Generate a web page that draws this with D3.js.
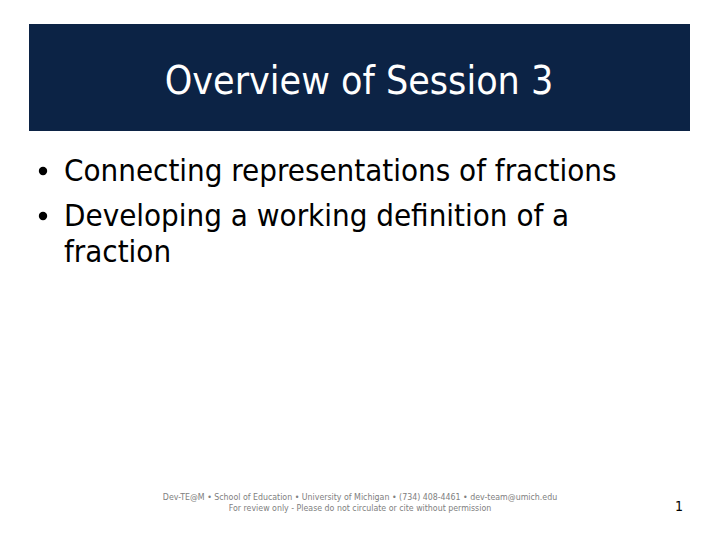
<!DOCTYPE html>
<html>
<head>
<meta charset="utf-8">
<script src="https://cdn.jsdelivr.net/npm/d3@7"></script>
<style>
  html, body { margin: 0; padding: 0; background: #fff; }
  svg { display: block; }
</style>
</head>
<body>
<div id="slide"></div>
<script>
const WIDTH = 720,
  HEIGHT = 540,
  BANNER_COLOR = "#0c2345",
  TEXT_FONT = "'DejaVu Sans Condensed', 'DejaVu Sans', sans-serif";

// slide content
const title = ["Overview of Session 3"];
const bullets = [
  ["Connecting representations of fractions"],
  ["Developing a working definition of a", "fraction"]
];
const footerLines = [
  "Dev-TE@M \u2022 School of Education \u2022 University of Michigan \u2022 (734) 408-4461 \u2022 dev-team@umich.edu",
  "For review only - Please do not circulate or cite without permission"
];
const pageNumber = ["1"];

const svg = d3.select("#slide").append("svg")
  .attr("width", WIDTH)
  .attr("height", HEIGHT);

// title banner
svg.append("rect")
  .attr("x", 29).attr("y", 24)
  .attr("width", 661).attr("height", 107)
  .style("fill", BANNER_COLOR);

svg.selectAll(".title")
  .data(title)
  .enter().append("text")
  .attr("class", "title")
  .attr("x", 359).attr("y", 94)
  .attr("text-anchor", "middle")
  .style("font-family", TEXT_FONT)
  .style("font-size", "39px")
  .style("fill", "#fff")
  .text(d => d);

// bullet list: each item may wrap onto more lines
var y = 181;
const items = svg.append("g").attr("class", "bullets");
bullets.forEach(function (lines) {
  items.append("circle")
    .attr("cx", 43).attr("cy", y - 10)
    .attr("r", 4.2)
    .style("fill", "#000");
  lines.forEach(function (line, i) {
    items.append("text")
      .attr("x", 64).attr("y", y + i * 36)
      .style("font-family", TEXT_FONT)
      .style("font-size", "31px")
      .style("fill", "#000")
      .text(line);
  });
  y += (lines.length - 1) * 36 + 45;
});

// footer
svg.selectAll(".footer")
  .data(footerLines)
  .enter().append("text")
  .attr("class", "footer")
  .attr("x", 360)
  .attr("y", (d, i) => 500 + i * 11)
  .attr("text-anchor", "middle")
  .style("font-family", TEXT_FONT)
  .style("font-size", "8.75px")
  .style("fill", "#808080")
  .text(d => d);

svg.selectAll(".page")
  .data(pageNumber)
  .enter().append("text")
  .attr("class", "page")
  .attr("x", 679).attr("y", 511)
  .attr("text-anchor", "middle")
  .style("font-family", TEXT_FONT)
  .style("font-size", "14px")
  .style("fill", "#000")
  .text(d => d);
</script>
</body>
</html>
